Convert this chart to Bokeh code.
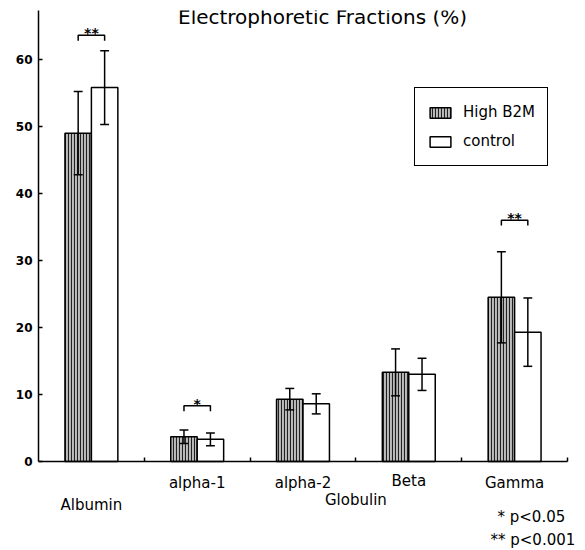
from bokeh.plotting import figure
from bokeh.models import (Range1d, FixedTicker, Legend, LegendItem, Label, ColumnDataSource)
from bokeh.core.properties import value
from bokeh.embed import file_html
from bokeh.resources import INLINE

# ---------------- data ----------------
categories = ["Albumin", "alpha-1", "alpha-2", "Beta", "Gamma"]
high_mean = [49.0, 3.7, 9.3, 13.3, 24.5]
high_sd = [6.2, 1.0, 1.6, 3.5, 6.8]
ctrl_mean = [55.8, 3.3, 8.6, 13.0, 19.3]
ctrl_sd = [5.5, 0.95, 1.5, 2.4, 5.1]
sig_marks = ["**", "*", "", "", "**"]
sig_level = [63.6, 8.3, None, None, 36.0]
y_ticks = [0, 10, 20, 30, 40, 50, 60]
series_names = ["High B2M", "control"]
footnotes = ["* p<0.05", "** p<0.001"]

FONT = "DejaVu Sans"
BAR_W = 0.25
W, H = 585, 550
LEFT, TOP, RIGHT, BOTTOM = 38, 10, 0, 0
PX_Y = 6.701   # pixels per y unit
PX_X = 105.8   # pixels per category
Y_TOP = 67.3
frame_h = H - TOP - BOTTOM
frame_w = W - LEFT - RIGHT
y_start = Y_TOP - frame_h / PX_Y
x_end = frame_w / PX_X

centers = [i + 0.5 for i in range(len(categories))]
x_high = [c - BAR_W / 2 for c in centers]
x_ctrl = [c + BAR_W / 2 for c in centers]

p = figure(width=W, height=H, output_backend="svg", toolbar_location=None,
           x_range=Range1d(0, x_end), y_range=Range1d(y_start, Y_TOP),
           min_border_left=LEFT, min_border_right=RIGHT, min_border_top=TOP,
           min_border_bottom=BOTTOM)
p.outline_line_color = None
p.xgrid.visible = False
p.ygrid.visible = False
p.background_fill_color = "white"
p.border_fill_color = "white"

# axes
p.yaxis.ticker = FixedTicker(ticks=y_ticks)
p.yaxis.bounds = (0, Y_TOP)
p.yaxis.minor_tick_line_color = None
p.yaxis.major_tick_in = 4
p.yaxis.major_tick_out = 0
p.yaxis.major_label_standoff = 6
p.yaxis.major_label_text_font = FONT
p.yaxis.major_label_text_font_style = "bold"
p.yaxis.major_label_text_font_size = "12px"
p.yaxis.major_label_text_color = "black"
p.yaxis.axis_line_width = 1.5
p.yaxis.major_tick_line_width = 1.5

p.xaxis.ticker = FixedTicker(ticks=[1, 2, 3, 4, 5])
p.xaxis.bounds = (0, len(categories))
p.xaxis.fixed_location = 0
p.xaxis.minor_tick_line_color = None
p.xaxis.major_tick_in = 4
p.xaxis.major_tick_out = 0
p.xaxis.major_label_standoff = 0
p.xaxis.major_label_overrides = {i: "" for i in [1, 2, 3, 4, 5]}
p.xaxis.axis_line_width = 1.5
p.xaxis.major_tick_line_width = 1.5

# bars
src_h = ColumnDataSource(dict(x=x_high, top=high_mean))
src_c = ColumnDataSource(dict(x=x_ctrl, top=ctrl_mean))
r_high = p.vbar(x="x", top="top", width=BAR_W, bottom=0, source=src_h,
                fill_color="#bcbcbc", line_color="black", line_width=1.5,
                hatch_pattern="vertical_line", hatch_color="#111111",
                hatch_scale=3, hatch_weight=1.1, hatch_alpha=0.9)
r_ctrl = p.vbar(x="x", top="top", width=BAR_W, bottom=0, source=src_c,
                fill_color="white", line_color="black", line_width=1.5)

# error bars
CAP = 0.042
for xs, m, s in ((x_high, high_mean, high_sd), (x_ctrl, ctrl_mean, ctrl_sd)):
    lo = [a - b for a, b in zip(m, s)]
    hi = [a + b for a, b in zip(m, s)]
    p.segment(x0=xs, y0=lo, x1=xs, y1=hi, line_color="black", line_width=1.5)
    p.segment(x0=[x - CAP for x in xs], y0=hi, x1=[x + CAP for x in xs], y1=hi,
              line_color="black", line_width=1.5)
    p.segment(x0=[x - CAP for x in xs], y0=lo, x1=[x + CAP for x in xs], y1=lo,
              line_color="black", line_width=1.5)

# significance brackets
bx, by, tx, ty, tt = [], [], [], [], []
for i, lvl in enumerate(sig_level):
    if lvl is None:
        continue
    bx.append([x_high[i], x_high[i], x_ctrl[i], x_ctrl[i]])
    by.append([lvl - 0.8, lvl, lvl, lvl - 0.8])
    tx.append(centers[i])
    ty.append(lvl)
    tt.append(sig_marks[i])
p.multi_line(xs=bx, ys=by, line_color="black", line_width=1.5)
p.text(x=tx, y=ty, text=tt, text_align="center", text_baseline="alphabetic",
       y_offset=-2, text_font=value(FONT), text_font_style="bold",
       text_font_size="14px", text_color="black")

# category labels (below the axis), offsets in pixels below y = 0
label_px = [44, 22, 22, 20, 22]
for c, name, d in zip(centers, categories, label_px):
    p.add_layout(Label(x=c, y=-d / PX_Y, text=name,
                       text_align="center", text_baseline="middle",
                       text_font=FONT, text_font_size="15px", text_color="black"))
p.add_layout(Label(x=3.0, y=-39 / PX_Y, text="Globulin",
                   text_align="center", text_baseline="middle",
                   text_font=FONT, text_font_size="15px", text_color="black"))

# footnotes
p.add_layout(Label(x=(497 - LEFT) / PX_X, y=-56 / PX_Y, text=footnotes[0],
                   text_align="left", text_baseline="middle",
                   text_font=FONT, text_font_size="15px", text_color="black"))
p.add_layout(Label(x=(490 - LEFT) / PX_X, y=-79 / PX_Y, text=footnotes[1],
                   text_align="left", text_baseline="middle",
                   text_font=FONT, text_font_size="15px", text_color="black"))

# title
p.add_layout(Label(x=(322 - LEFT) / PX_X, y=(461 - 17) / PX_Y,
                   text="Electrophoretic Fractions (%)", text_align="center",
                   text_baseline="alphabetic", text_font=FONT,
                   text_font_size="20px", text_color="black"))

# legend (location = bottom-left corner, pixels from frame bottom-left)
legend = Legend(items=[LegendItem(label=series_names[0], renderers=[r_high]),
                       LegendItem(label=series_names[1], renderers=[r_ctrl])],
                location=(414 - LEFT, (H - BOTTOM) - 166), padding=12, spacing=5,
                glyph_width=26, glyph_height=13, label_height=24,
                label_standoff=10, label_text_font=FONT,
                label_text_font_size="15px", label_text_color="black",
                border_line_color="black", border_line_width=1.5,
                border_line_alpha=1.0,
                background_fill_color="white", background_fill_alpha=1.0)
p.add_layout(legend)

open("out.html", "w").write(file_html(p, INLINE))
